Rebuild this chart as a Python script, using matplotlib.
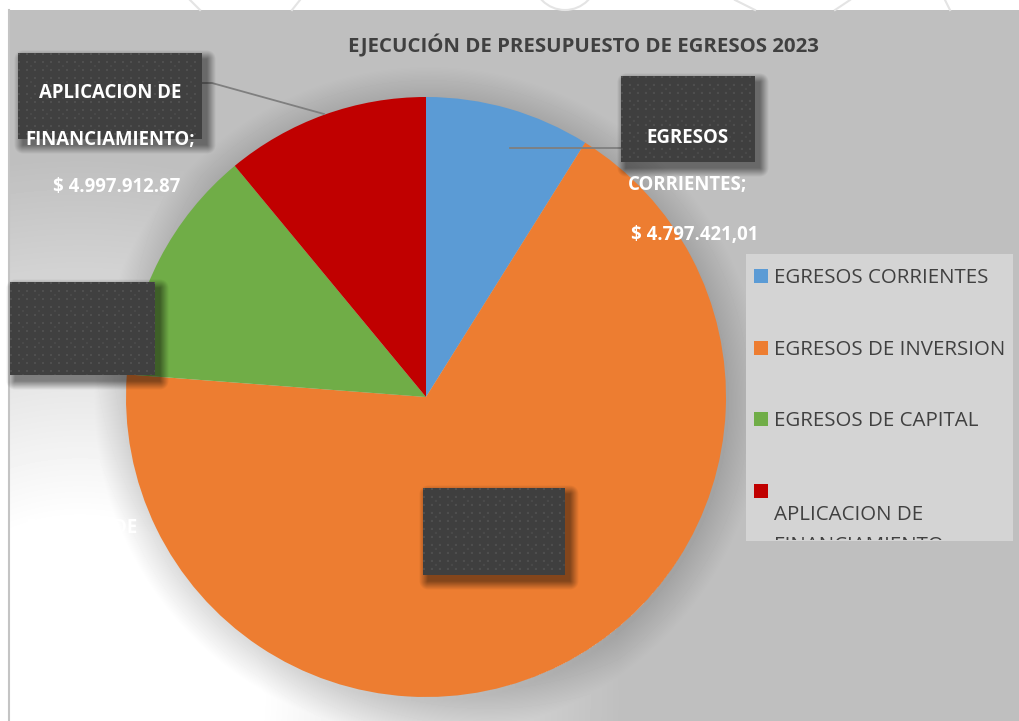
import numpy as np
import matplotlib.pyplot as plt
from matplotlib.patches import Rectangle, Arc
from matplotlib.transforms import Bbox, TransformedBbox

W, H = 1020, 721

# === Datos ===
categorias = ["EGRESOS CORRIENTES", "EGRESOS DE INVERSION",
              "EGRESOS DE CAPITAL", "APLICACION DE FINANCIAMIENTO"]
participacion = [8.9, 67.3, 12.8, 11.0]   # % aproximado de cada porción
colores = ["#5b9bd5", "#ed7d31", "#70ad47", "#c00000"]
titulo = "EJECUCIÓN DE PRESUPUESTO DE EGRESOS 2023"
etiqueta_corr = ["EGRESOS", "CORRIENTES;", "$ 4.797.421,01"]
etiqueta_fin = ["APLICACION DE", "FINANCIAMIENTO;", "$ 4.997.912.87"]

FUENTE = ["Open Sans", "DejaVu Sans"]
cx, cy, R = 426, 397, 300

fig = plt.figure(figsize=(W / 100, H / 100), dpi=100)
ax = fig.add_axes([0, 0, 1, 1])

# === Fondo: gris con brillo blanco abajo a la izquierda y sombra del pastel ===
yy, xx = np.mgrid[0:H, 0:W] + 0.5
fondo = np.full((H, W), 191 / 255)
d = np.hypot(xx - 80, yy - 700)
w = np.clip((540 - d) / 360, 0, 1)
fondo = fondo + (1 - fondo) * w
r = np.hypot(xx - cx - 3, yy - cy - 4)
s = np.clip(1 - (r - R) / 35, 0, 1) * (r > R - 5)
fondo = fondo * (1 - 0.14 * s)
fondo[:10, :] = 1.0
fondo[:, :9] = 1.0
ax.imshow(fondo, cmap="gray", vmin=0, vmax=1, extent=(0, W, H, 0), zorder=0)
ax.plot([9.5, 9.5], [10, H], color="#c4c4c4", lw=1.5, zorder=1)

# marca de agua tenue arriba
for x0, x1 in [(190, 200), (300, 292), (735, 755), (850, 835), (945, 950)]:
    ax.plot([x0, x1], [0, 10], color="#e4e4e4", lw=1.5, zorder=1)
ax.add_patch(Arc((565, -22), 64, 64, theta1=0, theta2=180, color="#e4e4e4", lw=1.5, zorder=1))

# === Pastel ===
ax.pie(participacion, colors=colores, startangle=-90, counterclock=True,
       center=(cx, cy), radius=R, wedgeprops=dict(linewidth=0, zorder=2))

# === Líneas guía ===
ax.plot([510, 626], [148, 148], color="#7f7f7f", lw=1.3, zorder=3)
ax.plot([200, 212, 324], [83, 83, 114], color="#7f7f7f", lw=1.3, zorder=3)


# === Cajas oscuras con textura ===
def caja(x0, y0, x1, y1):
    pad = 12
    sx0, sy0, sx1, sy1 = x0 + 5, y0 + 6, x1 + 5, y1 + 6
    gy, gx = np.mgrid[sy0 - pad:sy1 + pad, sx0 - pad:sx1 + pad] + 0.5
    dx = np.maximum(np.maximum(sx0 - gx, gx - sx1), 0)
    dy = np.maximum(np.maximum(sy0 - gy, gy - sy1), 0)
    alfa = 0.45 * np.clip(1 - np.hypot(dx, dy) / 9, 0, 1)
    rgba = np.zeros(gx.shape + (4,))
    rgba[..., 3] = alfa
    ax.imshow(rgba, extent=(sx0 - pad, sx1 + pad, sy1 + pad, sy0 - pad), zorder=4)
    hy, hx = np.mgrid[0:y1 - y0, 0:x1 - x0]
    tex = np.full(hx.shape, 0.25)
    tex[((hx % 8) < 2) & ((hy % 8) < 2)] = 0.31
    tex[(((hx + 4) % 16) < 2) & (((hy + 4) % 16) < 2)] = 0.29
    ax.imshow(tex, cmap="gray", vmin=0, vmax=1, extent=(x0, x1, y1, y0), zorder=5)


caja(18, 53, 202, 139)
caja(621, 76, 755, 162)
caja(10, 282, 155, 375)
caja(423, 488, 565, 575)

# === Leyenda ===
ax.add_patch(Rectangle((746, 254), 267, 287, facecolor="#d4d4d4", edgecolor="none", zorder=3))

ax.set_xlim(0, W)
ax.set_ylim(H, 0)
ax.set_aspect("auto")
ax.axis("off")

fig.canvas.draw()
rend = fig.canvas.get_renderer()


def ajustar(t, ancho):
    ancho_actual = t.get_window_extent(rend).width
    t.set_fontsize(t.get_fontsize() * ancho / ancho_actual)
    return t.get_fontsize()


# título
t = ax.text(583, 52, titulo, ha="center", va="baseline", fontsize=18,
            fontweight="bold", color="#404040", family=FUENTE, zorder=6)
ajustar(t, 470)

# etiqueta financiamiento
ref = ax.text(110, 145, etiqueta_fin[1], ha="center", va="baseline", fontsize=12,
              fontweight="bold", color="white", family=FUENTE, zorder=6)
fs_lab = ajustar(ref, 170)
ax.text(110, 98, etiqueta_fin[0], ha="center", va="baseline", fontsize=fs_lab,
        fontweight="bold", color="white", family=FUENTE, zorder=6)
ax.text(117, 192, etiqueta_fin[2], ha="center", va="baseline", fontsize=fs_lab,
        fontweight="bold", color="white", family=FUENTE, zorder=6)

# etiqueta corrientes
for texto, xx_, yy_ in zip(etiqueta_corr, [688, 688, 695], [143, 190, 240]):
    ax.text(xx_, yy_, texto, ha="center", va="baseline", fontsize=fs_lab,
            fontweight="bold", color="white", family=FUENTE, zorder=6)

# texto oculto de inversión (blanco sobre blanco)
ax.text(137, 533, "EGRESOS DE", ha="right", va="baseline", fontsize=fs_lab,
        fontweight="bold", color="white", family=FUENTE, zorder=6)

# entradas de la leyenda
ref = ax.text(774, 355, categorias[1], ha="left", va="baseline", fontsize=14,
              color="#404040", family=FUENTE, zorder=6)
fs_ley = ajustar(ref, 232)
ref.remove()
caja_ley = TransformedBbox(Bbox([[746, 254], [1013, 540]]), ax.transData)
bases = [283, 355, 426]
marcas = [276, 348, 419, 491]
for i, (nombre, col) in enumerate(zip(categorias, colores)):
    ax.add_patch(Rectangle((754, marcas[i] - 7), 14, 14, facecolor=col, edgecolor="none", zorder=6))
    if i < 3:
        ax.text(774, bases[i], nombre, ha="left", va="baseline", fontsize=fs_ley,
                color="#404040", family=FUENTE, zorder=6)
    else:
        partes = ["APLICACION DE", "FINANCIAMIENTO"]
        for parte, yb in zip(partes, [520, 551]):
            tt = ax.text(774, yb, parte, ha="left", va="baseline", fontsize=fs_ley,
                         color="#404040", family=FUENTE, zorder=6)
            tt.set_clip_box(caja_ley)
            tt.set_clip_on(True)

fig.savefig("out.png", dpi=100)
